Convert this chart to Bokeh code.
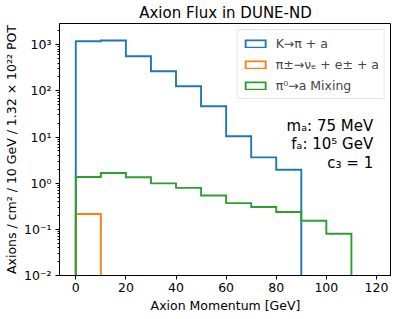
import numpy as np
from bokeh.plotting import figure
from bokeh.models import Range1d, FixedTicker, Label, Legend, LegendItem
from bokeh.embed import file_html
from bokeh.resources import INLINE

# ---- data ----
bin_width = 10
k_pi_a = [1190, 1233, 564, 266, 126, 46.3, 10.4, 3.63, 1.96]          # K -> pi + a
pi_nu_e_a = [0.215]                                                    # pi+- -> nu_e + e+- + a
pi0_mixing = [1.36, 1.66, 1.34, 0.99, 0.79, 0.54, 0.37, 0.305, 0.237, 0.154, 0.080]

series_labels = ["K→π + a", "π±→νₑ + e± + a", "π⁰→a Mixing"]
series_colors = ["#1f77b4", "#ff7f0e", "#2ca02c"]

x_ticks = [0, 20, 40, 60, 80, 100, 120]
y_ticks = [1e-2, 1e-1, 1e0, 1e1, 1e2, 1e3]
y_tick_labels = ["10⁻²", "10⁻¹", "10⁰", "10¹", "10²", "10³"]

title_text = "Axion Flux in DUNE-ND"
info_lines = ["mₐ: 75 MeV", "fₐ: 10⁵ GeV", "c₃ = 1"]
info_y = [17.7, 7.2, 2.8]

FONT = "DejaVu Sans"
X0, X1 = -6.5, 126.0
Y0, Y1 = 1e-2, 2880.0
FLOOR = 1e-6


def step_outline(values):
    vals = np.asarray(values, dtype=float)
    edges = np.arange(len(vals) + 1) * bin_width
    xs = np.concatenate([[edges[0]], np.repeat(edges[1:-1], 2), [edges[-1]]])
    ys = np.repeat(vals, 2)
    xs = np.concatenate([[edges[0]], xs, [edges[-1]]])
    ys = np.concatenate([[FLOOR], ys, [FLOOR]])
    return xs, ys


p = figure(width=391, height=315, y_axis_type="log",
           x_range=Range1d(X0, X1), y_range=Range1d(Y0, Y1),
           output_backend="svg", toolbar_location=None,
           title=title_text,
           min_border_left=53, min_border_right=0,
           min_border_top=0, min_border_bottom=35)

p.title.align = "center"
p.title.text_font = FONT
p.title.text_font_size = "15px"
p.title.text_font_style = "normal"
p.title.text_color = "black"
p.title.standoff = 3
p.title.offset = 4

p.xgrid.visible = False
p.ygrid.visible = False
p.outline_line_color = "black"
p.outline_line_alpha = 1.0
p.outline_line_width = 1
p.background_fill_color = "white"
p.border_fill_color = "white"

renderers = []
for vals, col in zip([k_pi_a, pi_nu_e_a, pi0_mixing], series_colors):
    xs, ys = step_outline(vals)
    r = p.patch(xs, ys, fill_color=None, line_color=col, line_width=1.9,
                line_join="miter")
    renderers.append(r)

legend = Legend(items=[LegendItem(label=lab, renderers=[r])
                       for lab, r in zip(series_labels, renderers)],
                location="top_right")
legend.margin = 6
legend.padding = 5
legend.spacing = 5
legend.label_height = 16
legend.glyph_height = 9
legend.glyph_width = 25
legend.label_standoff = 8
legend.label_text_font = FONT
legend.label_text_font_size = "12.5px"
legend.border_line_color = "#cccccc"
legend.border_line_width = 1
legend.background_fill_alpha = 0.8
p.add_layout(legend)

# axes styling
for ax in (p.xaxis, p.yaxis):
    ax.axis_line_color = "black"
    ax.major_tick_line_color = "black"
    ax.major_tick_out = 4
    ax.major_tick_in = 0
    ax.major_label_text_font = FONT
    ax.major_label_text_font_size = "12.5px"
    ax.major_label_text_color = "black"
    ax.axis_label_text_font = FONT
    ax.axis_label_text_font_size = "12.5px"
    ax.axis_label_text_font_style = "normal"
    ax.axis_label_text_color = "black"

p.xaxis.ticker = FixedTicker(ticks=x_ticks)
p.xaxis.minor_tick_line_color = None
p.xaxis.major_label_standoff = 3
p.xaxis.axis_label = "Axion Momentum [GeV]"
p.xaxis.axis_label_standoff = 3

minor = [m * t for t in y_ticks for m in range(2, 10)]
p.yaxis.ticker = FixedTicker(ticks=y_ticks, minor_ticks=minor)
p.yaxis.major_label_overrides = {t: lab for t, lab in zip(y_ticks, y_tick_labels)}
p.yaxis.minor_tick_line_color = "black"
p.yaxis.minor_tick_out = 2
p.yaxis.minor_tick_in = 0
p.yaxis.major_label_standoff = 4
p.yaxis.axis_label = "Axions / cm² / 10 GeV / 1.32 × 10²² POT"
p.yaxis.axis_label_standoff = 2

# info text
for txt, yv in zip(info_lines, info_y):
    p.add_layout(Label(x=118.7, y=yv, text=txt, text_align="right",
                       text_baseline="alphabetic", text_font=FONT,
                       text_font_size="15px", text_color="black"))

open("out.html", "w").write(file_html(p, INLINE))
